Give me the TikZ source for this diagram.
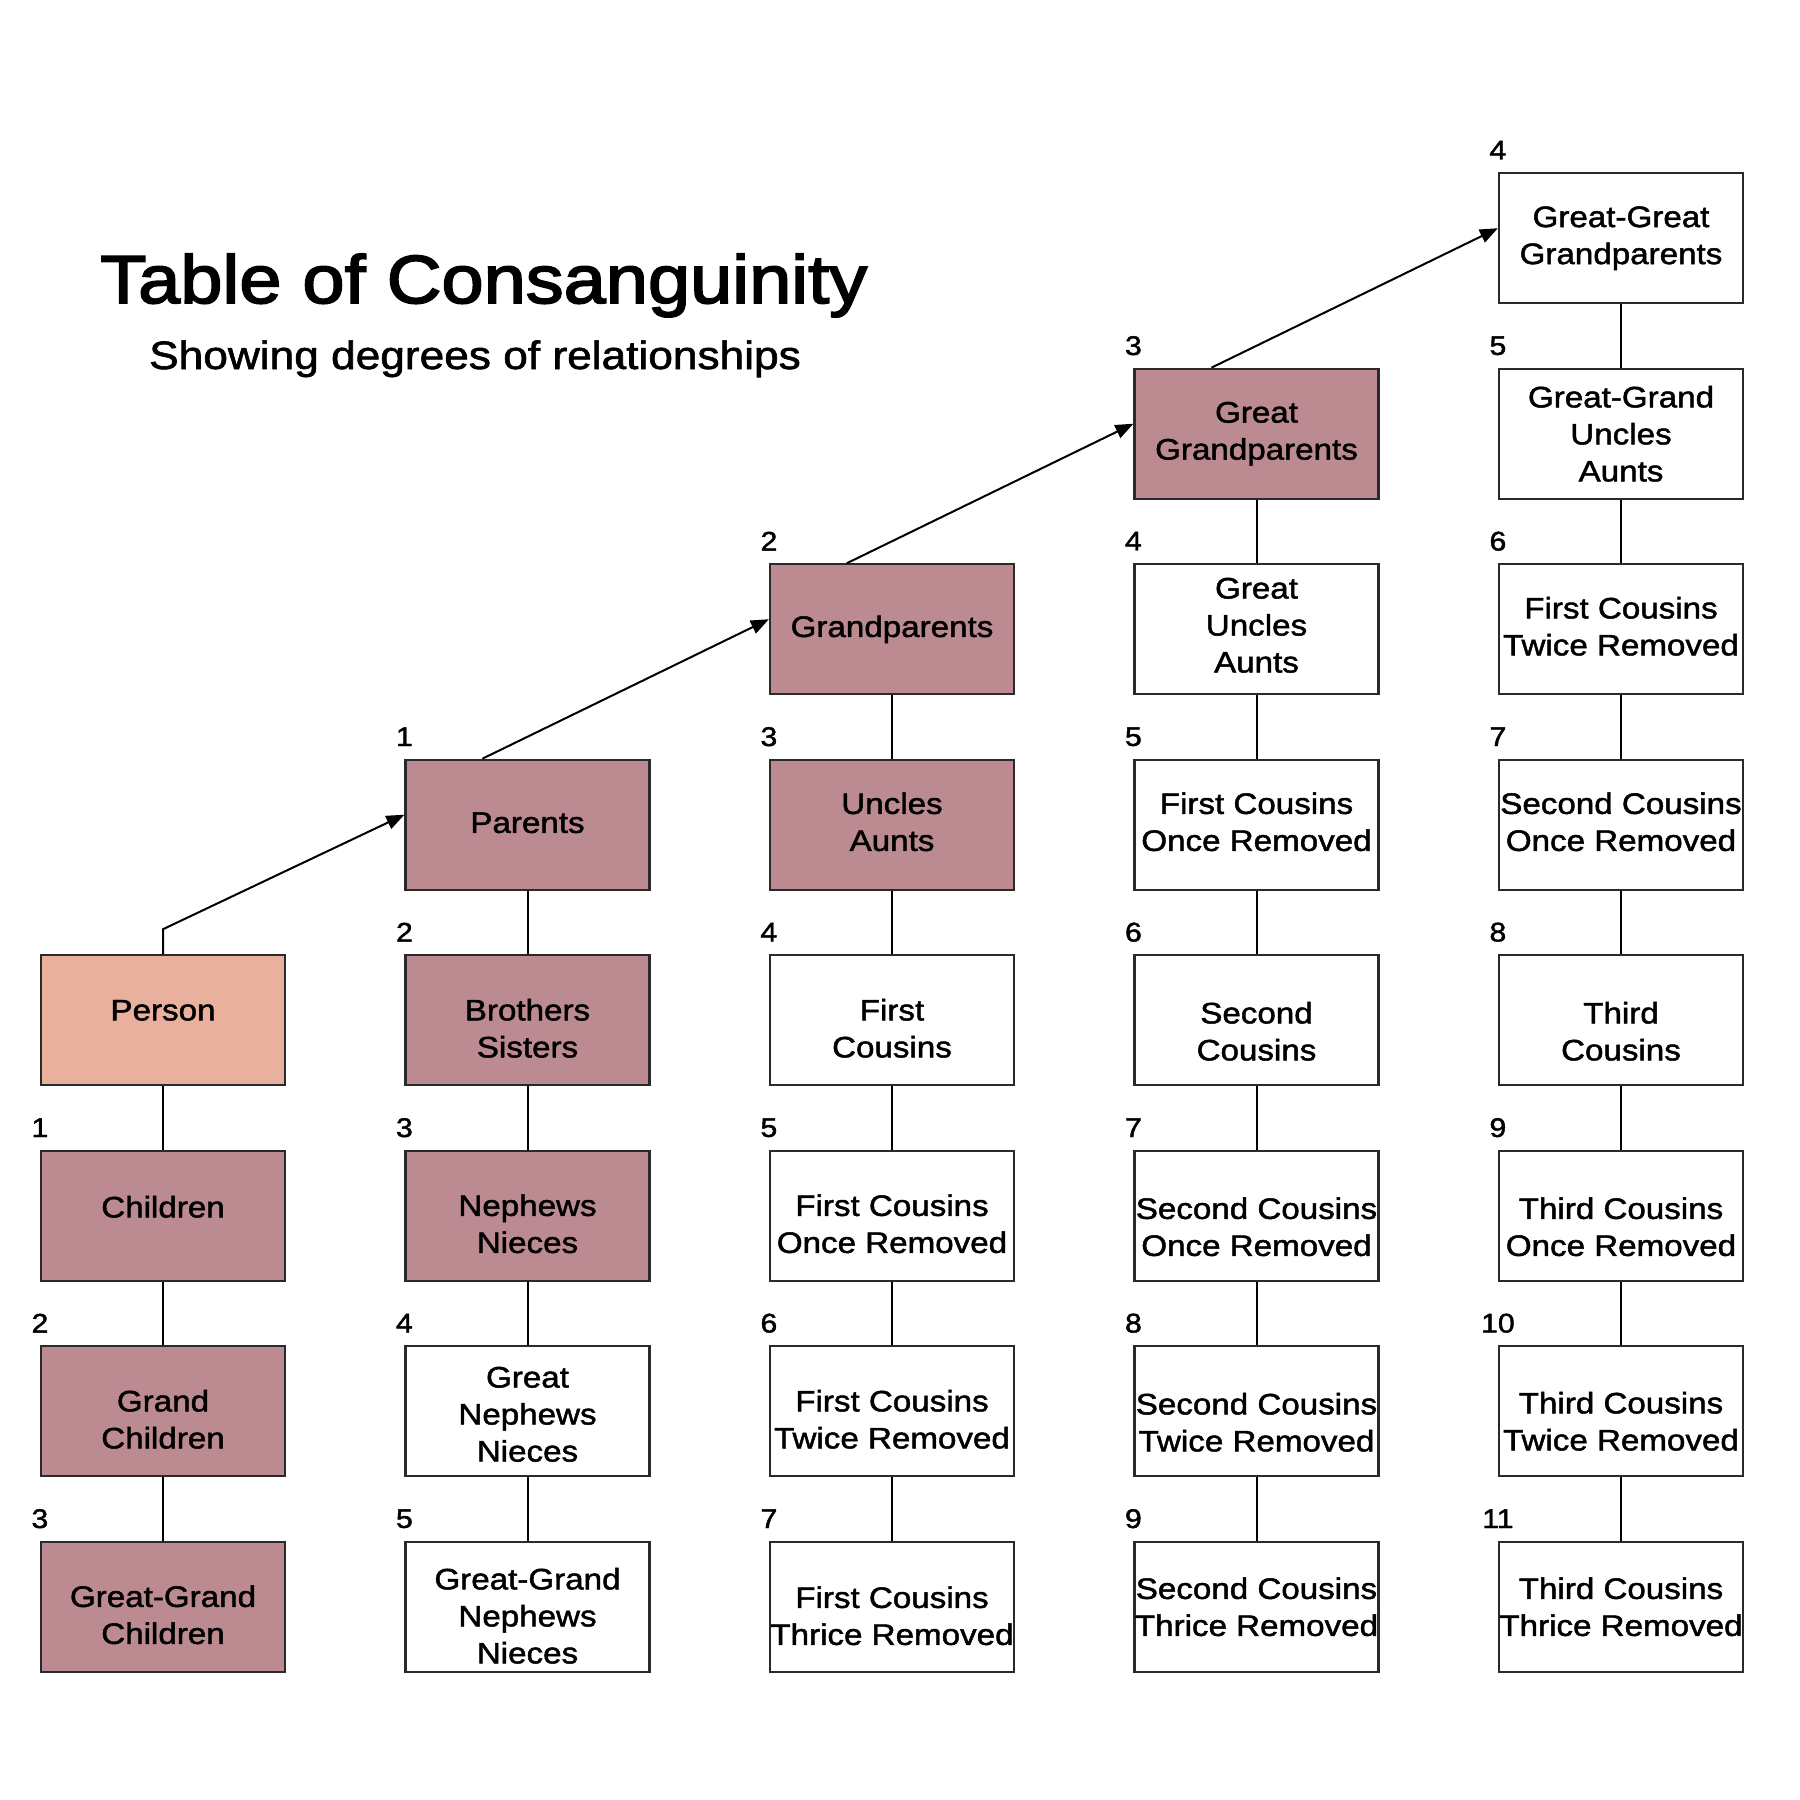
\documentclass[tikz,border=0pt]{standalone}
\usepackage{fontspec}
\setmainfont{Liberation Sans}[FakeStretch=1.12,FakeBold=1.6]
\newfontfamily\titlefont{Liberation Sans}[FakeStretch=1.115,FakeBold=2.6]
\usetikzlibrary{arrows.meta}
\definecolor{mauve}{HTML}{BC8A91}
\definecolor{salmon}{HTML}{E8B09D}
\definecolor{edgec}{HTML}{2A2A2A}
\newcommand\rb[7]{%
  \node[#4] (#1) at ({163+364.5*#2},{238.3+195.5*#3}) {};
  \node[tx] at ([yshift=#6]#1.center) {#5};
  \node[num] at ([yshift=22pt]#1.north west) {#7};}
\begin{document}
\begin{tikzpicture}[x=1pt,y=-1pt,
  bx/.style={draw=edgec, line width=2.2pt, minimum width=244pt, minimum height=130pt, inner sep=0pt, fill=white},
  fam/.style={bx, fill=mauve},
  selfbox/.style={bx, fill=salmon},
  tx/.style={align=center, font=\fontsize{29.6}{37}\selectfont, inner sep=0pt},
  num/.style={font=\fontsize{27}{30}\selectfont, inner sep=0pt},
  link/.style={draw=black, line width=2pt},
  uparrow/.style={link, -{Triangle[length=18pt,width=14pt]}},
]
\useasboundingbox (0,0) rectangle (1800,1800);

\node[anchor=base west, inner sep=0pt, font=\titlefont\fontsize{68}{80}\selectfont] (title) at (100,303) {Table of Consanguinity};
\node[anchor=base west, inner sep=0pt, font=\fontsize{39.5}{46}\selectfont] (subtitle) at (149,369) {Showing degrees of relationships};

% column 0
\node[selfbox] (me) at ({163},{238.3+195.5*4}) {};
\node[tx] at ([yshift=10pt]me.center) {Person};
\rb{ch}{0}{5}{fam}{Children}{9pt}{1}
\rb{gch}{0}{6}{fam}{Grand\\Children}{-8pt}{2}
\rb{ggch}{0}{7}{fam}{Great-Grand\\Children}{-8pt}{3}

% column 1
\rb{par}{1}{3}{fam}{Parents}{2pt}{1}
\rb{sib}{1}{4}{fam}{Brothers\\Sisters}{-8pt}{2}
\rb{nep}{1}{5}{fam}{Nephews\\Nieces}{-8pt}{3}
\rb{gnep}{1}{6}{bx}{Great\\Nephews\\Nieces}{-3pt}{4}
\rb{ggnep}{1}{7}{bx}{Great-Grand\\Nephews\\Nieces}{-9pt}{5}

% column 2
\rb{gp}{2}{2}{fam}{Grandparents}{0pt}{2}
\rb{unc}{2}{3}{fam}{Uncles\\Aunts}{3pt}{3}
\rb{fc}{2}{4}{bx}{First\\Cousins}{-8pt}{4}
\rb{fcone}{2}{5}{bx}{First Cousins\\Once Removed}{-8pt}{5}
\rb{fctwo}{2}{6}{bx}{First Cousins\\Twice Removed}{-8pt}{6}
\rb{fcthree}{2}{7}{bx}{First Cousins\\Thrice Removed}{-9pt}{7}

% column 3
\rb{ggp}{3}{1}{fam}{Great\\Grandparents}{0pt}{3}
\rb{gunc}{3}{2}{bx}{Great\\Uncles\\Aunts}{4pt}{4}
\rb{fconeb}{3}{3}{bx}{First Cousins\\Once Removed}{3pt}{5}
\rb{sc}{3}{4}{bx}{Second\\Cousins}{-11pt}{6}
\rb{scone}{3}{5}{bx}{Second Cousins\\Once Removed}{-11pt}{7}
\rb{sctwo}{3}{6}{bx}{Second Cousins\\Twice Removed}{-11pt}{8}
\rb{scthree}{3}{7}{bx}{Second Cousins\\Thrice Removed}{0pt}{9}

% column 4
\rb{gggp}{4}{0}{bx}{Great-Great\\Grandparents}{0pt}{4}
\rb{ggunc}{4}{1}{bx}{Great-Grand\\Uncles\\Aunts}{0pt}{5}
\rb{fctwob}{4}{2}{bx}{First Cousins\\Twice Removed}{3pt}{6}
\rb{sconeb}{4}{3}{bx}{Second Cousins\\Once Removed}{3pt}{7}
\rb{tc}{4}{4}{bx}{Third\\Cousins}{-11pt}{8}
\rb{tcone}{4}{5}{bx}{Third Cousins\\Once Removed}{-11pt}{9}
\rb{tctwo}{4}{6}{bx}{Third Cousins\\Twice Removed}{-10pt}{10}
\rb{tcthree}{4}{7}{bx}{Third Cousins\\Thrice Removed}{0pt}{11}

% vertical links
\draw[link] (me.south) -- (ch.north);
\draw[link] (ch.south) -- (gch.north);
\draw[link] (gch.south) -- (ggch.north);
\draw[link] (par.south) -- (sib.north);
\draw[link] (sib.south) -- (nep.north);
\draw[link] (nep.south) -- (gnep.north);
\draw[link] (gnep.south) -- (ggnep.north);
\draw[link] (gp.south) -- (unc.north);
\draw[link] (unc.south) -- (fc.north);
\draw[link] (fc.south) -- (fcone.north);
\draw[link] (fcone.south) -- (fctwo.north);
\draw[link] (fctwo.south) -- (fcthree.north);
\draw[link] (ggp.south) -- (gunc.north);
\draw[link] (gunc.south) -- (fconeb.north);
\draw[link] (fconeb.south) -- (sc.north);
\draw[link] (sc.south) -- (scone.north);
\draw[link] (scone.south) -- (sctwo.north);
\draw[link] (sctwo.south) -- (scthree.north);
\draw[link] (gggp.south) -- (ggunc.north);
\draw[link] (ggunc.south) -- (fctwob.north);
\draw[link] (fctwob.south) -- (sconeb.north);
\draw[link] (sconeb.south) -- (tc.north);
\draw[link] (tc.south) -- (tcone.north);
\draw[link] (tcone.south) -- (tctwo.north);
\draw[link] (tctwo.south) -- (tcthree.north);

% ascending arrows
\draw[uparrow] (me.north) -- ++(0,-25) -- ([yshift=-56pt]par.north west);
\draw[uparrow] ([xshift=78pt]par.north west) -- ([yshift=-56pt]gp.north west);
\draw[uparrow] ([xshift=78pt]gp.north west) -- ([yshift=-56pt]ggp.north west);
\draw[uparrow] ([xshift=78pt]ggp.north west) -- ([yshift=-56pt]gggp.north west);
\end{tikzpicture}
\end{document}
